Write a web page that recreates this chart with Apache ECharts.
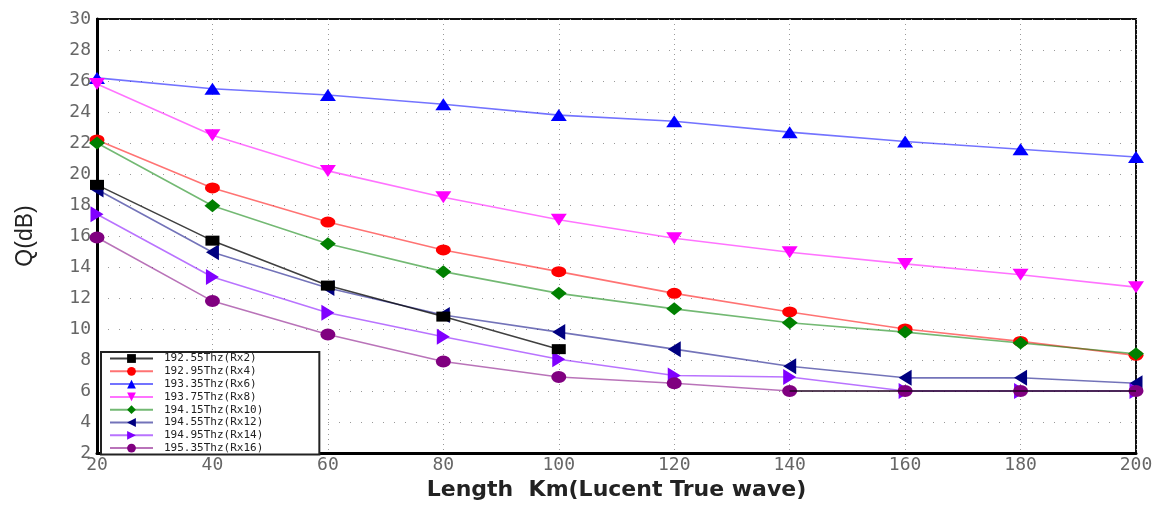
<!DOCTYPE html>
<html>
<head>
<meta charset="utf-8">
<script src="https://cdn.jsdelivr.net/npm/echarts@6/dist/echarts.min.js"></script>
<style>
  html, body { margin: 0; padding: 0; background: #fff; }
  #chart { width: 1164px; height: 506px; }
</style>
</head>
<body>
<div id="chart"></div>
<script>
// Fibre length in km (x axis)
const lengths = [20, 40, 60, 80, 100, 120, 140, 160, 180, 200];

// Q factor (dB) per channel
const rx2  = [19.3, 15.7, 12.8, 10.8, 8.7, null, 6.0, 6.0, 6.0, 6.0];
const rx4  = [22.2, 19.1, 16.9, 15.1, 13.7, 12.3, 11.1, 10.0, 9.2, 8.3];
const rx6  = [26.2, 25.5, 25.1, 24.5, 23.8, 23.4, 22.7, 22.1, 21.6, 21.1];
const rx8  = [25.8, 22.5, 20.2, 18.5, 17.05, 15.85, 14.95, 14.2, 13.5, 12.7];
const rx10 = [22.0, 17.95, 15.5, 13.7, 12.3, 11.3, 10.4, 9.8, 9.1, 8.4];
const rx12 = [19.0, 14.95, 12.65, 10.9, 9.8, 8.7, 7.6, 6.85, 6.85, 6.5];
const rx14 = [17.4, 13.35, 11.05, 9.5, 8.05, 7.0, 6.9, 6.0, 6.0, 6.0];
const rx16 = [15.9, 11.8, 9.65, 7.9, 6.9, 6.5, 6.0, 6.0, 6.0, 6.0];

const seriesNames = [
  '192.55Thz(Rx2)', '192.95Thz(Rx4)', '193.35Thz(Rx6)', '193.75Thz(Rx8)',
  '194.15Thz(Rx10)', '194.55Thz(Rx12)', '194.95Thz(Rx14)', '195.35Thz(Rx16)'
];
const seriesValues = [rx2, rx4, rx6, rx8, rx10, rx12, rx14, rx16];

// axis ranges and tick steps
const yMin = 2, yMax = 30, yStep = 2;
const xMin = 20, xMax = 200, xStep = 20;

const colors = ['#000000', '#ff0000', '#0000ff', '#ff00ff', '#008000', '#000080', '#8000ff', '#800080'];
const symbols = ['rect', 'circle', 'triangle', 'triangle', 'diamond', 'triangle', 'triangle', 'circle'];
const rotates = [0, 0, 0, 180, 0, 90, -90, 0];
const sizes = [[14, 10], [15, 11], [16, 12], [16, 12], [16, 13], [16, 13], [16, 13], [15, 12]];

const series = seriesNames.map((name, i) => ({
  name: name,
  type: 'line',
  data: lengths.map((x, k) => [x, seriesValues[i][k]]),
  connectNulls: false,
  symbol: symbols[i],
  symbolRotate: rotates[i],
  // the Rx2 tail (140-200 km) is drawn as a line only
  symbolSize: i === 0
    ? function (v, p) { return p.dataIndex > 5 ? 0 : sizes[0]; }
    : sizes[i],
  z: i === 0 ? 3 : 2,
  itemStyle: { color: colors[i], opacity: 1 },
  lineStyle: { color: colors[i], width: 1.6, opacity: i === 0 ? 0.75 : 0.55 },
  emphasis: { disabled: true },
  animation: false
}));

const chart = echarts.init(document.getElementById('chart'));
chart.setOption({
  animation: false,
  backgroundColor: '#ffffff',
  grid: {
    left: 97, right: 28, top: 19, bottom: 48,
    show: true, borderColor: '#111', borderWidth: 2
  },
  legend: {
    orient: 'vertical',
    left: 101, top: 352,
    itemWidth: 43, itemHeight: 11, itemGap: 1.8,
    padding: [1, 56, 1, 8],
    backgroundColor: '#fff',
    borderColor: '#222', borderWidth: 2,
    textStyle: {
      fontFamily: 'DejaVu Sans Mono', fontSize: 11,
      color: '#222', padding: [0, 0, 0, 6]
    },
    data: seriesNames
  },
  xAxis: {
    type: 'value',
    min: xMin, max: xMax, interval: xStep,
    name: 'Length  Km(Lucent True wave)',
    nameLocation: 'middle',
    nameGap: 26,
    nameTextStyle: { fontFamily: 'DejaVu Sans', fontWeight: 'bold', fontSize: 22, color: '#222' },
    axisLine: { lineStyle: { color: '#000', width: 3 } },
    axisTick: { show: false },
    axisLabel: { fontFamily: 'DejaVu Sans Mono', fontSize: 18, color: '#666', margin: 3 },
    splitLine: { show: true, lineStyle: { color: '#999', type: [1, 4], width: 1 } }
  },
  yAxis: {
    type: 'value',
    min: yMin, max: yMax, interval: yStep,
    name: 'Q(dB)',
    nameLocation: 'middle',
    nameGap: 60,
    nameTextStyle: { fontFamily: 'Liberation Sans', fontSize: 23, color: '#222' },
    axisLine: { show: true, lineStyle: { color: '#000', width: 3 } },
    axisTick: { show: false },
    axisLabel: { fontFamily: 'DejaVu Sans Mono', fontSize: 18, color: '#666', margin: 6 },
    splitLine: { show: true, lineStyle: { color: '#999', type: [1, 10], width: 1 } }
  },
  series: series
});
</script>
</body>
</html>
